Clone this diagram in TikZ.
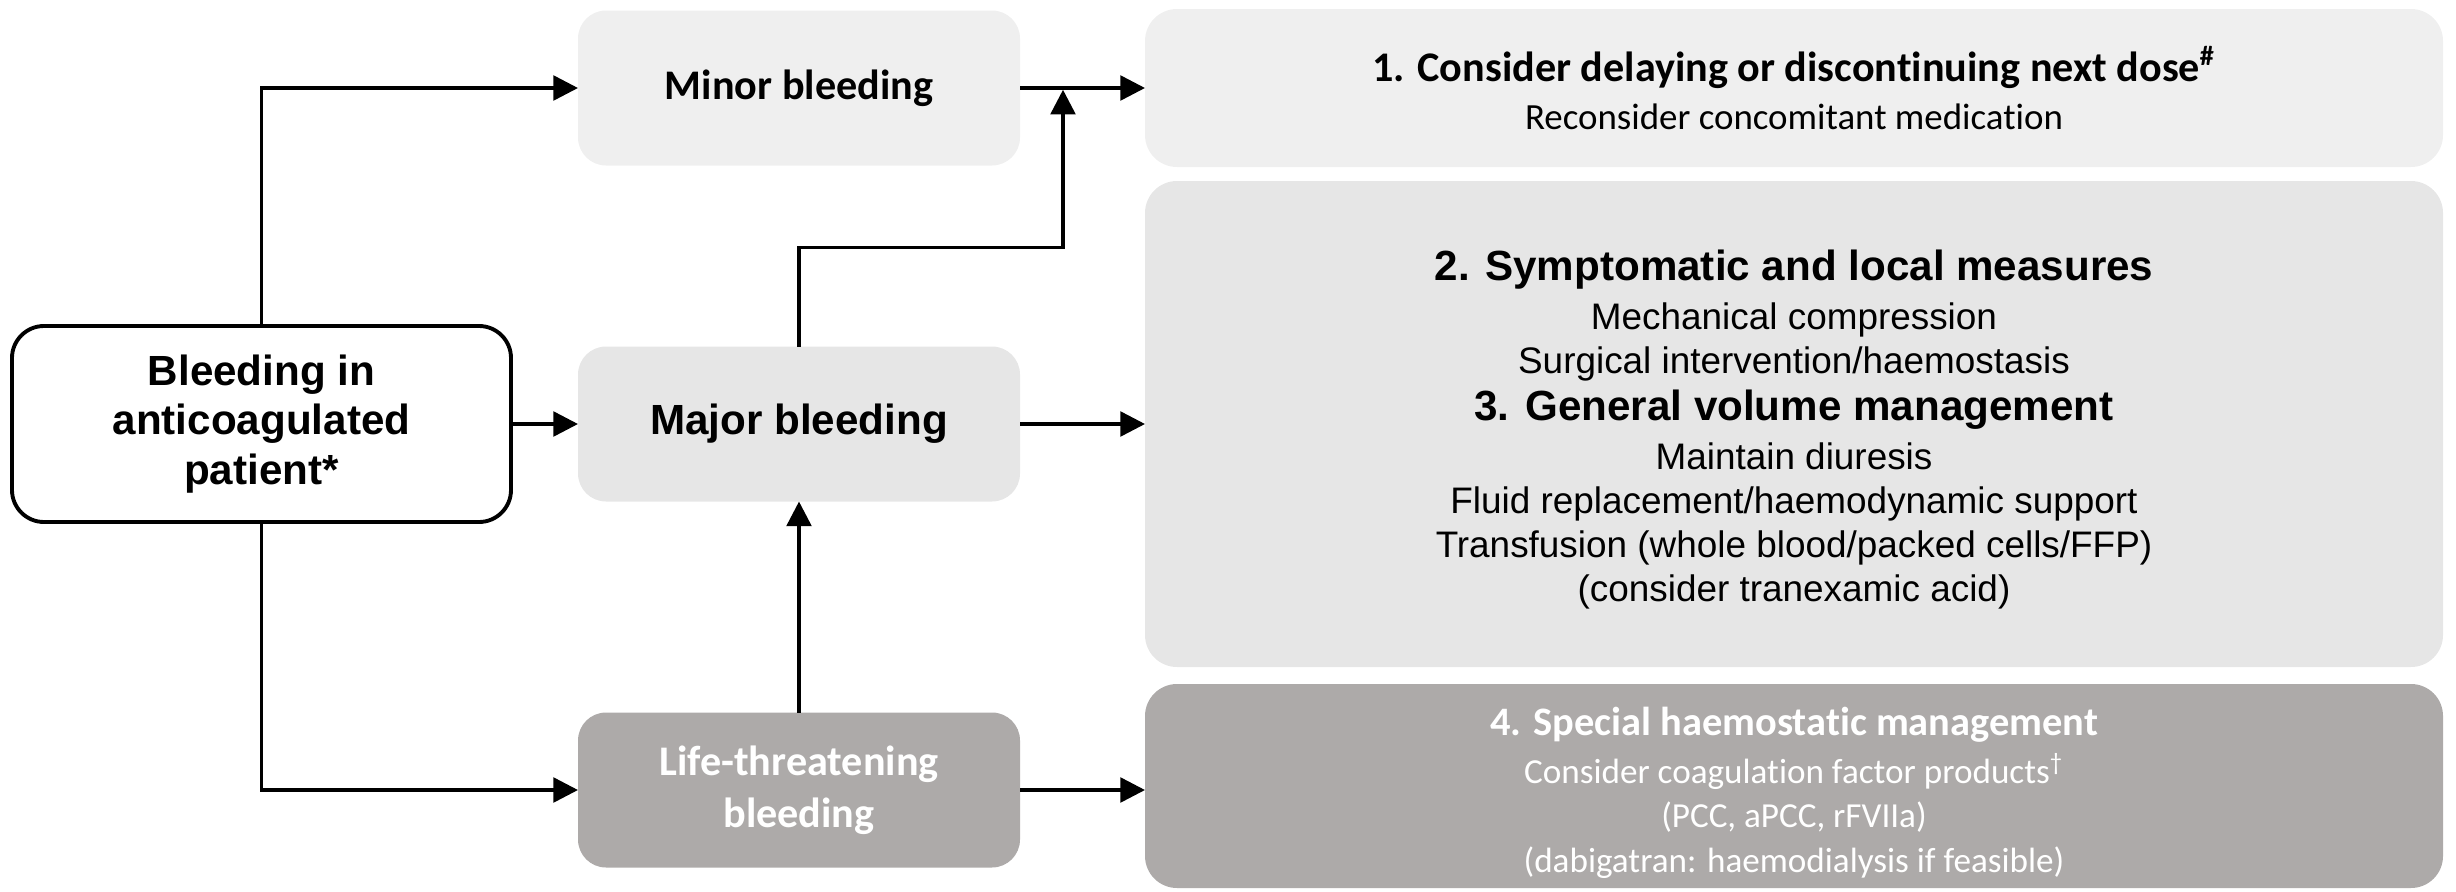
\documentclass[tikz,border=0pt]{standalone}
\usepackage{fontspec}
\setmainfont{Carlito}[Ligatures={NoCommon,NoContextual}]
\newfontfamily\arialfont{Liberation Sans}
\usetikzlibrary{positioning,calc,arrows.meta}
\definecolor{lightbox}{HTML}{EFEFEF}
\definecolor{midbox}{HTML}{E6E6E6}
\definecolor{darkbox}{HTML}{ADAAA9}

\begin{document}
\begin{tikzpicture}
    \tikzstyle{stage}=[rectangle, rounded corners=0.28cm, minimum width=4.42cm, minimum height=1.55cm, inner sep=0pt, outer sep=0pt, align=center]
    \tikzstyle{action}=[rectangle, rounded corners=0.32cm, minimum width=12.98cm, inner sep=0pt, outer sep=0pt, align=center]
    \tikzstyle{connect}=[-{Triangle[length=7pt,width=7pt]}, line width=1pt]

      \useasboundingbox (0,0) rectangle (24.56,-8.92);
      \node[draw, line width=1.1pt, rounded corners=0.32cm, minimum width=4.99cm, minimum height=1.96cm, inner sep=0pt, outer sep=0pt, align=center,
            font=\arialfont\bfseries\fontsize{12}{14.2}\selectfont] (patient) at (2.615,-4.24) {Bleeding in\\anticoagulated\\patient*};
      \node[stage, fill=midbox, font=\arialfont\bfseries\fontsize{12}{14}\selectfont] (major) [right=0.67cm of patient] {Major bleeding};
      \node[stage, fill=lightbox, font=\bfseries\fontsize{12}{14}\selectfont] (minor) [above=1.81cm of major] {Minor bleeding};
      \node[stage, fill=darkbox, text=white, font=\bfseries\fontsize{12}{14.8}\selectfont] (life) [below=2.11cm of major] {Life-threatening\\bleeding};
      \node[action, fill=lightbox, minimum height=1.58cm, font=\fontsize{10.5}{13.7}\selectfont] (act1) [right=1.25cm of minor]
        {{\bfseries\fontsize{12}{13.7}\selectfont 1. Consider delaying or discontinuing next dose\textsuperscript{\#}}\\Reconsider concomitant medication};
      \node[action, fill=midbox, minimum height=4.86cm, font=\arialfont\fontsize{10.5}{12.6}\selectfont] (act23) [right=1.25cm of major]
        {\rule{0pt}{12pt}{\bfseries\fontsize{12}{12.6}\selectfont 2. Symptomatic and local measures}\\[1.2pt]
         Mechanical compression\\
         Surgical intervention/haemostasis\\[0.8pt]
         {\bfseries\fontsize{12}{12.6}\selectfont 3. General volume management}\\[1.2pt]
         Maintain diuresis\\
         Fluid replacement/haemodynamic support\\
         Transfusion (whole blood/packed cells/FFP)\\
         (consider tranexamic acid)};
      \node[action, fill=darkbox, text=white, minimum height=2.04cm, font=\fontsize{10}{12.6}\selectfont] (act4) [below=0.17cm of act23]
        {\rule{0pt}{12pt}{\bfseries\fontsize{11.5}{12.6}\selectfont 4. Special haemostatic management}\\[1pt]
         Consider coagulation factor products\textsuperscript{†}\\
         (PCC, aPCC, rFVIIa)\\
         (dabigatran: haemodialysis if feasible)};

      \coordinate (merge) at ($(minor.east)!0.344!(act1.west)$);
      \path
        (patient.east) edge [connect] (major.west)
        (minor.east) edge [connect] (act1.west)
        (major.east) edge [connect] (act23.west)
        (life.north) edge [connect] (major.south)
        (life.east) edge [connect] (life.east -| act4.west);
      \draw[connect] (patient.north) |- (minor.west);
      \draw[connect] (patient.south) |- (life.west);
      \draw[connect] (major.north) -- ++(0,0.99) -| ([yshift=-0.5pt]merge);
\end{tikzpicture}
\end{document}
